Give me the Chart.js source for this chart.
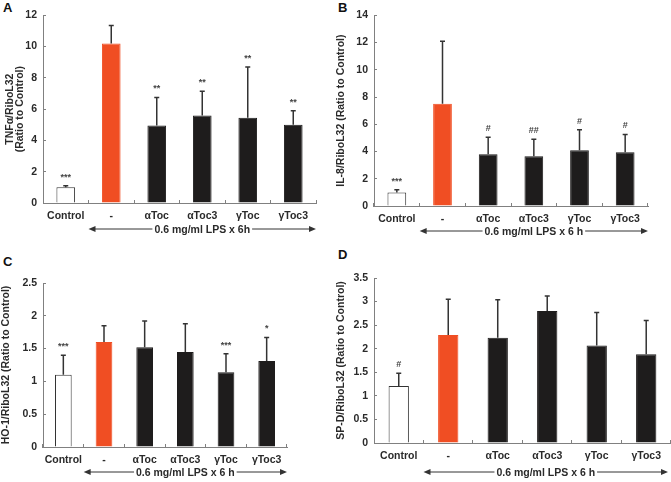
<!DOCTYPE html>
<html>
<head>
<meta charset="utf-8">
<script src="https://cdn.jsdelivr.net/npm/chart.js@4.4.1/dist/chart.umd.min.js"></script>
<style>
  body { margin: 0; background: #fff; width: 671px; height: 482px; position: relative; overflow: hidden;
         font-family: "Liberation Sans", Arial, sans-serif; }
  canvas { position: absolute; }
  .letter { position: absolute; font-weight: bold; font-size: 13px; color: #111; line-height: 13px; }
</style>
</head>
<body>
<div class="letter" style="left:3px;top:1px">A</div>
<div class="letter" style="left:338px;top:1px">B</div>
<div class="letter" style="left:3px;top:255px">C</div>
<div class="letter" style="left:338px;top:248px">D</div>
<canvas id="panelA" width="335" height="240" style="left:0;top:0"></canvas>
<canvas id="panelB" width="336" height="240" style="left:335px;top:0"></canvas>
<canvas id="panelC" width="335" height="242" style="left:0;top:240px"></canvas>
<canvas id="panelD" width="336" height="242" style="left:335px;top:240px"></canvas>
<script>
// treatment groups (same in all four panels)
const groups = ['Control', '-', 'αToc', 'αToc3', 'γToc', 'γToc3'];

// A: TNFa
const tnfMean = [1.0, 10.2, 4.95, 5.6, 5.45, 5.0];
const tnfSd = [0.1, 1.15, 1.8, 1.55, 3.25, 0.9];
const tnfSig = ['***', '', '**', '**', '**', '**'];
const tnfTicks = [0, 2, 4, 6, 8, 10, 12];

// B: IL-8
const il8Mean = [1.0, 7.5, 3.8, 3.65, 4.1, 3.95];
const il8Sd = [0.2, 4.6, 1.25, 1.25, 1.5, 1.3];
const il8Sig = ['***', '', '#', '##', '#', '#'];
const il8Ticks = [0, 2, 4, 6, 8, 10, 12, 14];

// C: HO-1
const ho1Mean = [1.1, 1.6, 1.52, 1.45, 1.14, 1.31];
const ho1Sd = [0.3, 0.25, 0.4, 0.43, 0.28, 0.36];
const ho1Sig = ['***', '', '', '', '***', '*'];
const ho1Ticks = [0, 0.5, 1, 1.5, 2, 2.5];

// D: SP-D
const spdMean = [1.21, 2.29, 2.23, 2.8, 2.07, 1.88];
const spdSd = [0.27, 0.76, 0.81, 0.32, 0.7, 0.72];
const spdSig = ['#', '', '', '', '', ''];
const spdTicks = [0, 0.5, 1, 1.5, 2, 2.5, 3, 3.5];

const ink = '#2a2a2a';
const axisGrey = '#808080';
const fills = ['#ffffff', '#f04e23', '#1e1c1c', '#1e1c1c', '#1e1c1c', '#1e1c1c'];
const edges = ['#333333', '#f04e23', '#1e1c1c', '#1e1c1c', '#1e1c1c', '#1e1c1c'];
const fontFam = '"Liberation Sans", Arial, sans-serif';

function errorBars(sd, sig) {
  return {
    id: 'errorBars',
    afterDatasetsDraw(chart) {
      const c = chart.ctx;
      const y = chart.scales.y;
      const meta = chart.getDatasetMeta(0);
      c.save();
      meta.data.forEach((bar, i) => {
        const top = y.getPixelForValue(chart.data.datasets[0].data[i] + sd[i]);
        c.strokeStyle = '#333';
        c.lineWidth = 1.5;
        c.beginPath();
        c.moveTo(bar.x, bar.y);
        c.lineTo(bar.x, top);
        c.moveTo(bar.x - 2.5, top);
        c.lineTo(bar.x + 2.5, top);
        c.stroke();
        if (sig[i]) {
          c.fillStyle = '#444';
          c.font = 'bold 9px ' + fontFam;
          c.textAlign = 'center';
          c.textBaseline = 'alphabetic';
          c.fillText(sig[i], bar.x, top - 6);
        }
      });
      c.restore();
    }
  };
}

function lpsArrow(label, drop) {
  return {
    id: 'lpsArrow',
    afterDraw(chart) {
      const c = chart.ctx;
      const x = chart.scales.x;
      const x1 = (x.getPixelForTick(0) + x.getPixelForTick(1)) / 2;
      const x2 = Math.min(x.right, chart.width - 3);
      const yy = x.top + drop;
      c.save();
      c.strokeStyle = '#333';
      c.fillStyle = '#333';
      c.lineWidth = 1;
      c.beginPath();
      c.moveTo(x1 + 5, yy);
      c.lineTo(x2 - 5, yy);
      c.stroke();
      c.beginPath();
      c.moveTo(x1, yy); c.lineTo(x1 + 7, yy - 3); c.lineTo(x1 + 7, yy + 3); c.closePath();
      c.moveTo(x2, yy); c.lineTo(x2 - 7, yy - 3); c.lineTo(x2 - 7, yy + 3); c.closePath();
      c.fill();
      c.font = 'bold 10.5px ' + fontFam;
      const w = c.measureText(label).width;
      const cx = (x1 + x2) / 2;
      c.fillStyle = '#fff';
      c.fillRect(cx - w / 2 - 2, yy - 7, w + 4, 14);
      c.fillStyle = ink;
      c.textAlign = 'center';
      c.textBaseline = 'middle';
      c.fillText(label, cx, yy + 1);
      c.restore();
    }
  };
}

function panel(id, mean, sd, sig, ticks, cfg) {
  const ctx = document.getElementById(id).getContext('2d');
  return new Chart(ctx, {
    type: 'bar',
    data: {
      labels: groups,
      datasets: [{
        data: mean,
        backgroundColor: fills,
        borderColor: edges,
        borderWidth: 1,
        barPercentage: 0.41,
        categoryPercentage: 1
      }]
    },
    options: {
      responsive: false,
      animation: false,
      devicePixelRatio: 1,
      layout: { padding: { left: 0, top: cfg.top, right: cfg.right, bottom: 0 } },
      plugins: { legend: { display: false }, tooltip: { enabled: false } },
      scales: {
        x: {
          grid: { offset: true, drawOnChartArea: false, tickLength: -3, color: axisGrey },
          border: { color: axisGrey },
          ticks: { color: ink, font: { family: fontFam, size: 10.5, weight: 'bold' }, padding: 10,
                   maxRotation: 0, autoSkip: false },
          afterFit: s => { s.height = cfg.xh; }
        },
        y: {
          min: ticks[0],
          max: ticks[ticks.length - 1],
          grid: { drawOnChartArea: false, tickLength: -3, color: axisGrey },
          border: { color: axisGrey },
          ticks: { stepSize: ticks[1] - ticks[0], color: ink, padding: 9,
                   font: { family: fontFam, size: 10.5, weight: 'bold' },
                   callback: v => String(v) },
          title: { display: true, text: cfg.title, color: ink,
                   font: { family: fontFam, size: 10.5, weight: 'bold', lineHeight: 1.0 },
                   padding: { top: cfg.titlePad, bottom: 0 } },
          afterFit: s => { s.width = cfg.yw; }
        }
      }
    },
    plugins: [errorBars(sd, sig), lpsArrow(cfg.arrowLabel, cfg.drop)]
  });
}

panel('panelA', tnfMean, tnfSd, tnfSig, tnfTicks, {
  top: 15, right: 19, xh: 37, yw: 43, titlePad: 4.5,
  title: ['TNFα/RiboL32', '(Ratio to Control)'], arrowLabel: '0.6 mg/ml LPS x 6h', drop: 26
});
panel('panelB', il8Mean, il8Sd, il8Sig, il8Ticks, {
  top: 8, right: 23, xh: 34, yw: 39, titlePad: 1,
  title: 'IL-8/RiboL32 (Ratio to Control)', arrowLabel: '0.6 mg/ml LPS x 6 h', drop: 25
});
panel('panelC', ho1Mean, ho1Sd, ho1Sig, ho1Ticks, {
  top: 43, right: 48, xh: 35, yw: 43, titlePad: 1,
  title: 'HO-1/RiboL32 (Ratio to Control)', arrowLabel: '0.6 mg/ml LPS x 6 h', drop: 25
});
panel('panelD', spdMean, spdSd, spdSig, spdTicks, {
  top: 38, right: 0, xh: 39, yw: 39, titlePad: 1,
  title: 'SP-D/RiboL32 (Ratio to Control)', arrowLabel: '0.6 mg/ml LPS x 6 h', drop: 29
});
</script>
</body>
</html>
